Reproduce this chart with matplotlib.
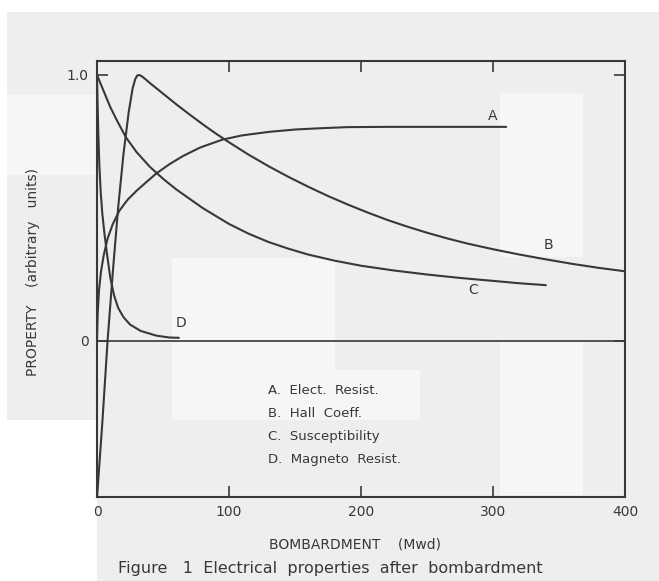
import matplotlib
matplotlib.use("Agg")
import matplotlib.pyplot as plt
from matplotlib.patches import Rectangle

# ---- data ----
a_x = [0, 0.5, 1.5, 3, 5, 8, 12, 17, 23, 30, 38, 45, 55, 65, 78, 95, 110, 130, 150, 170, 190, 220, 250, 280, 310]
a_y = [0.0, 0.10, 0.19, 0.26, 0.32, 0.385, 0.44, 0.49, 0.53, 0.565, 0.60, 0.63, 0.665, 0.695, 0.727,
       0.757, 0.773, 0.786, 0.795, 0.80, 0.804, 0.805, 0.805, 0.805, 0.805]

b_x = [0, 4, 8, 12, 16, 20, 24, 27, 29, 30.5, 32, 34, 37, 40, 50, 60, 70, 80, 90, 100, 115, 130, 145,
       160, 175, 190, 205, 220, 235, 250, 265, 280, 300, 320, 340, 360, 380, 400]
b_y = [-0.59, -0.31, 0.0, 0.26, 0.5, 0.7, 0.86, 0.95, 0.985, 0.998, 1.0, 0.995, 0.983, 0.97, 0.93, 0.89,
       0.852, 0.815, 0.78, 0.747, 0.70, 0.657, 0.617, 0.58, 0.545, 0.513, 0.483, 0.455, 0.43,
       0.407, 0.386, 0.367, 0.345, 0.325, 0.307, 0.29, 0.275, 0.262]

c_x = [0, 5, 10, 15, 22, 30, 40, 50, 60, 70, 80, 90, 100, 115, 130, 145, 160, 180, 200, 225,
       250, 275, 300, 320, 340]
c_y = [1.0, 0.94, 0.88, 0.83, 0.765, 0.71, 0.655, 0.61, 0.57, 0.535, 0.50, 0.47, 0.44, 0.403,
       0.372, 0.347, 0.325, 0.302, 0.283, 0.265, 0.25, 0.237, 0.226, 0.217, 0.21]

d_x = [0, 0.5, 1, 1.8, 2.8, 4, 5.5, 7.5, 10, 13, 16, 20, 25, 33, 45, 55, 62]
d_y = [1.0, 0.88, 0.78, 0.66, 0.56, 0.48, 0.41, 0.33, 0.24, 0.17, 0.125, 0.09, 0.062, 0.038, 0.02,
       0.013, 0.012]

x_ticks = [0, 100, 200, 300, 400]
x_ticklabels = ["0", "100", "200", "300", "400"]
y_ticks = [0, 1.0]
y_ticklabels = ["0", "1.0"]

legend_lines = ["A.  Elect.  Resist.", "B.  Hall  Coeff.", "C.  Susceptibility", "D.  Magneto  Resist."]
curve_labels = ["A", "B", "C", "D"]
curve_label_pos = [(300, 0.846), (342, 0.36), (285, 0.19), (64, 0.068)]

W, H = 659, 581
fig = plt.figure(figsize=(W / 100, H / 100), dpi=100)
fig.patch.set_facecolor("white")

def frect(x0, y0, x1, y1, color):
    fig.patches.append(Rectangle((x0 / W, 1 - y1 / H), (x1 - x0) / W, (y1 - y0) / H,
                                 transform=fig.transFigure, facecolor=color,
                                 edgecolor="none", zorder=-10))

# scan-like background panels
frect(7, 12, W, H, "#eeeeee")
frect(7, 95, 97, 175, "#f6f6f6")
frect(0, 420, 97, H, "#ffffff")
frect(172, 258, 335, 420, "#f6f6f6")
frect(255, 370, 420, 420, "#f6f6f6")
frect(500, 93, 583, 257, "#f6f6f6")
frect(500, 340, 583, 495, "#f6f6f6")

ink = "#383838"
ax = fig.add_axes([97 / W, 1 - 497 / H, (625 - 97) / W, (497 - 61) / H])
ax.set_facecolor("none")
ax.set_xlim(0, 400)
ax.set_ylim(-0.5865, 1.0526)

lw = 1.5
for xs, ys in [(a_x, a_y), (b_x, b_y), (c_x, c_y), (d_x, d_y)]:
    ax.plot(xs, ys, color=ink, lw=lw, solid_joinstyle="round", solid_capstyle="round")
ax.axhline(0, color=ink, lw=1.2)

for lab, (lx, ly) in zip(curve_labels, curve_label_pos):
    ax.text(lx, ly, lab, color=ink, fontsize=10, ha="center", va="center")

for s in ax.spines.values():
    s.set_color(ink)
    s.set_linewidth(1.5)

ax.set_xticks(x_ticks)
ax.set_xticklabels(x_ticklabels)
ax.set_yticks(y_ticks)
ax.set_yticklabels(y_ticklabels)
ax.tick_params(direction="in", length=8, width=1.2, color=ink, labelcolor=ink,
               labelsize=10, top=True, right=True, pad=6)

# legend block
for i, t in enumerate(legend_lines):
    fig.text(268 / W, 1 - (391 + 22.7 * i) / H, t, fontsize=9.5, color=ink,
             ha="left", va="center")

fig.text(355 / W, 1 - 545 / H, "BOMBARDMENT    (Mwd)", fontsize=10, color=ink,
         ha="center", va="center")
fig.text(33 / W, 1 - 272 / H, "PROPERTY    (arbitrary   units)", fontsize=10, color=ink,
         ha="center", va="center", rotation=90)
fig.text(118 / W, 1 - 569 / H, "Figure   1  Electrical  properties  after  bombardment",
         fontsize=11.5, color=ink, ha="left", va="center")

fig.savefig("out.png", dpi=100)
